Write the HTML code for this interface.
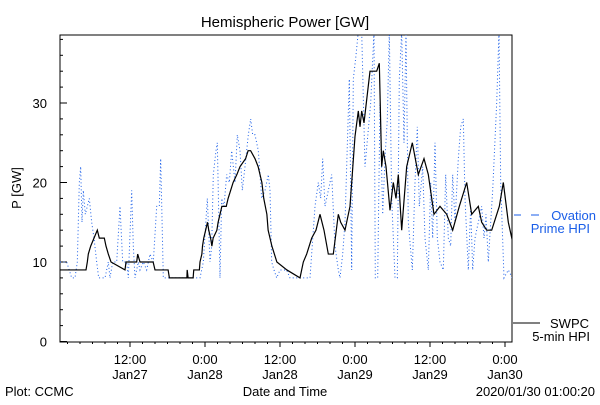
<!DOCTYPE html>
<html><head><meta charset="utf-8"><style>
body{margin:0;background:#fff}
svg text{font-family:"Liberation Sans",sans-serif}
</style></head><body>
<svg width="600" height="400" viewBox="0 0 600 400" xmlns="http://www.w3.org/2000/svg">
<defs><clipPath id="pc"><rect x="60" y="35" width="452" height="307"/></clipPath></defs>
<text x="285" y="27" font-size="15" text-anchor="middle">Hemispheric Power [GW]</text>
<rect x="60" y="35" width="452" height="307" fill="none" stroke="#000" stroke-width="1"/>
<g id="axes"></g>
<g id="series" clip-path="url(#pc)"></g>
<text transform="translate(21,188) rotate(-90)" font-size="13" text-anchor="middle">P [GW]</text>
<text x="285" y="396" font-size="13" text-anchor="middle">Date and Time</text>
<text x="5" y="396" font-size="13">Plot: CCMC</text>
<text x="595" y="396" font-size="13" text-anchor="end">2020/01/30 01:00:20</text>
<g>
<line x1="514" y1="215" x2="521" y2="215" stroke="#1a5ee8" stroke-width="1"/>
<line x1="531" y1="215" x2="539" y2="215" stroke="#1a5ee8" stroke-width="1"/>
<text x="596" y="220" font-size="13" fill="#1a5ee8" text-anchor="end">Ovation</text>
<text x="590" y="233" font-size="13" fill="#1a5ee8" text-anchor="end">Prime HPI</text>
</g>
<g>
<line x1="513" y1="323" x2="540" y2="323" stroke="#000" stroke-width="1"/>
<text x="589" y="328" font-size="13" text-anchor="end">SWPC</text>
<text x="590" y="341" font-size="13" text-anchor="end">5-min HPI</text>
</g>
</svg>
<script>
const yTicks=[0,10,20,30];
const xTickLabels=[["12:00","Jan27"],["0:00","Jan28"],["12:00","Jan28"],["0:00","Jan29"],["12:00","Jan29"],["0:00","Jan30"]];
const xTickHours=[12,24,36,48,60,72];
const swpcHours=[0.8,4.96,5.17,5.33,5.71,6.24,6.77,7.09,7.89,8.16,8.53,8.96,11.2,11.36,13.07,13.23,13.6,15.7,16,18.1,18.3,21.1,21.15,21.3,22.1,22.2,23.1,23.2,23.5,23.6,23.8,24.1,24.4,24.6,24.9,25.1,25.3,25.9,26.1,26.4,26.7,27.4,27.7,28.1,28.5,29.1,29.6,30.5,30.9,31.3,32,32.5,33.1,33.4,33.9,34.1,34.4,34.7,35.5,37.1,39.2,39.73,40.27,41.07,41.76,42.4,43.04,43.73,44.53,45.33,45.71,46.4,47.2,48.0,48.53,48.8,49.07,49.44,50.4,51.47,51.89,52.27,52.53,52.96,53.6,54.13,54.56,54.93,55.47,56.27,57.17,58.13,59.04,59.73,60.64,61.6,62.67,63.63,64.69,65.87,66.67,67.73,68.27,69.07,69.87,71.09,71.73,72.53,73.17];
const swpcValues=[9,9,10,11,12,13,14,13,13,12,11,10,9,10,10,11,10,10,9,9,8,8,9,8,8,9,9,10,11,12,13,14,15,14,13,12,13,14,15,16,17,17,18,19,20,21,22,23,24,24,23,22,20,18,16,14,13,12,10,9,8,10,11,13,14,16,14,11,11,16,15,14,17,25.8,29,27,29,27.5,34,34,35,22,24,22,16.5,20,18,21,14,22,25,21,23,21,16,17,16,14,17,20,16,17,15,14,14,17,20,15,12.7];
const ovHours=[0.8,1.87,2.67,3.2,3.57,3.89,4.11,4.32,4.53,4.85,5.17,5.49,5.87,6.24,6.67,6.99,7.47,8.0,8.53,8.8,9.23,9.87,10.4,10.83,11.47,11.73,12.27,12.53,12.8,13.33,13.6,14.13,14.67,15.2,15.73,16.27,16.69,16.91,17.33,17.87,23.2,23.73,24.37,24.8,25.07,25.33,25.76,25.97,26.4,26.67,27.04,27.47,27.89,28.27,28.8,29.17,29.6,29.97,30.4,30.93,31.31,31.63,32.0,32.53,33.07,33.6,34.13,34.4,34.67,35.04,35.47,36.0,37.07,37.6,39.2,40.8,41.6,42.13,42.51,42.83,43.2,43.73,44.27,44.8,45.33,45.6,46.03,46.4,47.09,47.47,47.73,48.16,48.53,49.07,49.6,50.51,51.04,51.25,51.63,52.0,52.43,52.8,53.17,53.49,53.87,54.4,54.77,55.09,55.47,55.84,56.16,56.53,57.17,57.6,57.97,58.29,58.83,59.2,59.73,60.11,60.43,60.8,61.17,61.6,62.13,62.51,62.93,63.31,63.63,64.0,64.53,64.91,65.33,65.6,66.13,66.51,66.83,67.2,67.73,68.27,68.64,68.96,69.33,69.71,70.03,70.67,71.04,71.31,71.84,72.53,73.17];
const ovValues=[10,10,8,8,10,20,22,15,19,16,17,18,15,13,10,8,8,8,10,8,10,10,17,10,10,8,19,12,8,10,9,10,9,11,10,17,17,23,8,8,8,10,18,10,12,21,24,25,8,18,17,21,20,24,20,26,24,19,22,26,28,26,26,24,18,19,21,19,10,9,8,9,9,8,8,8,17,20,18,23,17,19,21,12,9,8,11,15,33,9,33,36,39,39,22,30,39,8,8,30,16,23,28,39,18,8,8,33,39,25,39,15,9,20,27,17,22,13,9,20,13,25,13,10,9,21,13,12,21,15,23,27,28,18,9,17,9,13,15,17,13,16,10,15,19,30,39,20,8,9,8];
const NS="http://www.w3.org/2000/svg";
const X0=55, PXH=6.25, Y0=341.5, PXG=7.95;
const xs=h=>X0+h*PXH, ys=v=>Y0-v*PXG;
const axes=document.getElementById('axes'), series=document.getElementById('series');
function mk(t,a,p){const e=document.createElementNS(NS,t);for(const k in a)e.setAttribute(k,a[k]);p.appendChild(e);return e;}
for(let v=0;v<=38;v+=2){const major=v%10===0;const t=mk('line',{x1:60,x2:major?67:63,y1:ys(v),y2:ys(v),stroke:'#000'},axes);

}
yTicks.forEach(v=>{const t=mk('text',{x:47,y:ys(v)+5,'font-size':13,'text-anchor':'end'},axes);t.textContent=v;

});
for(let h=2;h<=74;h+=2){const x=xs(h);if(x<61||x>511)continue;const major=h%12===0;const t=mk('line',{x1:x,x2:x,y1:342,y2:major?347:344,stroke:'#000'},axes);

}
xTickHours.forEach((h,i)=>{[0,1].forEach(j=>{const t=mk('text',{x:xs(h),y:364+j*15,'font-size':13,'text-anchor':'middle'},axes);t.textContent=xTickLabels[i][j];

});});
const ov=mk('polyline',{points:ovHours.map((h,i)=>xs(h)+','+ys(ovValues[i])).join(' '),fill:'none',stroke:'#1a5ee8','stroke-width':1,'stroke-dasharray':'1 2.5'},series);


const sw=mk('polyline',{points:swpcHours.map((h,i)=>xs(h)+','+ys(swpcValues[i])).join(' '),fill:'none',stroke:'#000','stroke-width':1.2},series);


</script>
</body></html>
